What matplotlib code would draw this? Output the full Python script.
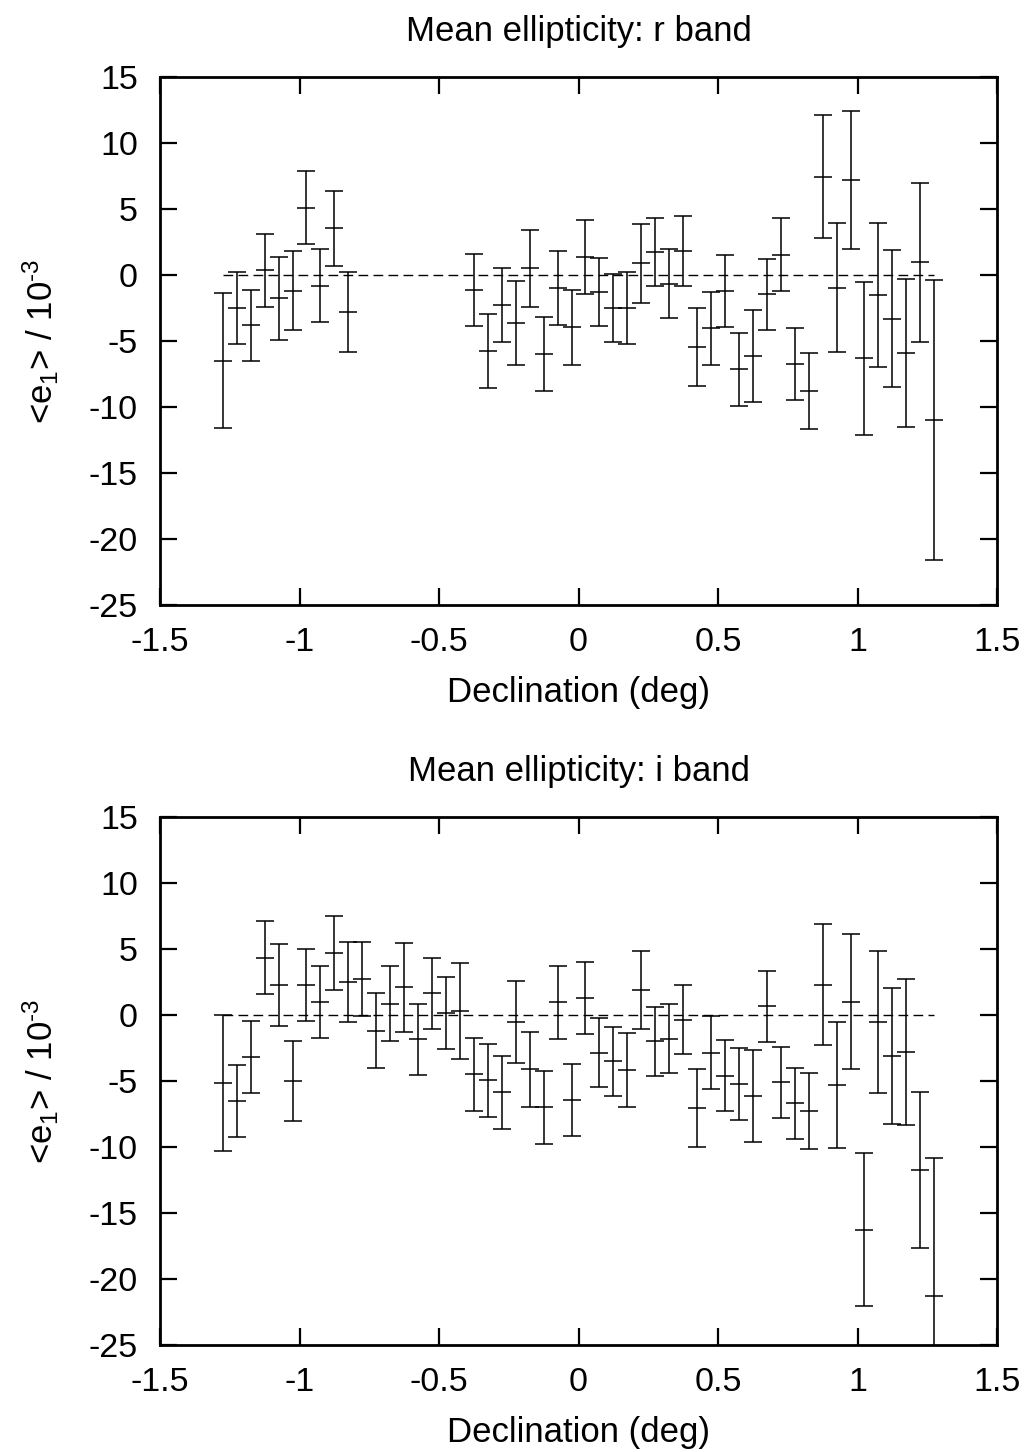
import matplotlib
matplotlib.use("Agg")
import matplotlib.pyplot as plt

plt.rcParams['font.family'] = ['Liberation Sans', 'DejaVu Sans']
plt.rcParams['mathtext.fontset'] = 'custom'
plt.rcParams['mathtext.rm'] = 'Liberation Sans'
plt.rcParams['mathtext.it'] = 'Liberation Sans'
plt.rcParams['axes.unicode_minus'] = False

# ---- data: r band ----
dec_r = [-1.275, -1.225, -1.175, -1.125, -1.075, -1.025, -0.975, -0.925, -0.875, -0.825,
         -0.375, -0.325, -0.275, -0.225, -0.175, -0.125, -0.075, -0.025, 0.025, 0.075,
         0.125, 0.175, 0.225, 0.275, 0.325, 0.375, 0.425, 0.475, 0.525, 0.575,
         0.625, 0.675, 0.725, 0.775, 0.825, 0.875, 0.925, 0.975, 1.025, 1.075,
         1.125, 1.175, 1.225, 1.275]
e1_r = [-6.5, -2.5, -3.8, 0.35, -1.75, -1.2, 5.1, -0.8, 3.55, -2.8,
        -1.15, -5.75, -2.3, -3.65, 0.5, -6.0, -1.0, -3.95, 1.35, -1.3,
        -2.5, -2.5, 0.9, 1.75, -0.65, 1.8, -5.45, -4.05, -1.2, -7.15,
        -6.15, -1.45, 1.55, -6.75, -8.8, 7.45, -0.95, 7.2, -6.3, -1.5,
        -3.3, -5.9, 0.95, -11.0]
err_r = [5.1, 2.75, 2.7, 2.75, 3.15, 3.0, 2.75, 2.75, 2.85, 3.05,
         2.75, 2.8, 2.8, 3.2, 2.9, 2.8, 2.8, 2.85, 2.8, 2.6,
         2.6, 2.75, 3.0, 2.6, 2.6, 2.65, 2.95, 2.75, 2.75, 2.75,
         3.5, 2.7, 2.75, 2.75, 2.9, 4.65, 4.9, 5.2, 5.8, 5.45,
         5.2, 5.6, 6.0, 10.6]

# ---- data: i band ----
dec_i = [-1.275, -1.225, -1.175, -1.125, -1.075, -1.025, -0.975, -0.925, -0.875, -0.825,
         -0.775, -0.725, -0.675, -0.625, -0.575, -0.525, -0.475, -0.425, -0.375, -0.325,
         -0.275, -0.225, -0.175, -0.125, -0.075, -0.025, 0.025, 0.075, 0.125, 0.175,
         0.225, 0.275, 0.325, 0.375, 0.425, 0.475, 0.525, 0.575, 0.625, 0.675,
         0.725, 0.775, 0.825, 0.875, 0.925, 0.975, 1.025, 1.075, 1.125, 1.175,
         1.225, 1.275]
e1_i = [-5.15, -6.5, -3.15, 4.35, 2.3, -5.0, 2.25, 1.0, 4.7, 2.5,
        2.75, -1.2, 0.85, 2.1, -1.85, 1.65, 0.15, 0.3, -4.5, -4.95,
        -5.85, -0.5, -4.1, -7.0, 0.95, -6.45, 1.3, -2.85, -3.5, -4.15,
        1.9, -2.0, -1.8, -0.35, -7.05, -2.85, -4.6, -5.25, -6.15, 0.65,
        -5.1, -6.7, -7.3, 2.3, -5.3, 1.0, -16.25, -0.55, -3.1, -2.8,
        -11.75, -21.3]
err_i = [5.15, 2.73, 2.73, 2.74, 3.1, 3.0, 2.72, 2.73, 2.8, 3.03,
         2.8, 2.83, 2.83, 3.36, 2.7, 2.7, 2.7, 3.66, 2.74, 2.78,
         2.77, 3.1, 2.85, 2.75, 2.78, 2.75, 2.75, 2.62, 2.6, 2.8,
         2.97, 2.6, 2.6, 2.6, 2.95, 2.74, 2.71, 2.72, 3.5, 2.7,
         2.7, 2.7, 2.88, 4.6, 4.8, 5.1, 5.77, 5.38, 5.16, 5.5,
         5.9, 10.45]

titles = ["Mean ellipticity: r band", "Mean ellipticity: i band"]
xticks = [-1.5, -1, -0.5, 0, 0.5, 1, 1.5]
xticklabels = ["-1.5", "-1", "-0.5", "0", "0.5", "1", "1.5"]
yticks = [15, 10, 5, 0, -5, -10, -15, -20, -25]
yticklabels = ["15", "10", "5", "0", "-5", "-10", "-15", "-20", "-25"]

W, H = 1030, 1452
fig = plt.figure(figsize=(W / 100, H / 100), dpi=100)

panels = [(dec_r, e1_r, err_r, 77), (dec_i, e1_i, err_i, 817)]
for (x, y, e, top), title in zip(panels, titles):
    left, right, bottom = 160, 997, top + 528
    ax = fig.add_axes([left / W, 1 - bottom / H, (right - left) / W, 528 / H])
    ax.plot([x[0], x[-1]], [0, 0], color='black', lw=1.0, dashes=(7, 3.8))
    ax.errorbar(x, y, yerr=e, fmt='_', color='black', ms=13, mew=1.1,
                elinewidth=1.1, capsize=6.5, capthick=1.1)
    ax.set_xlim(-1.5, 1.5)
    ax.set_ylim(-25, 15)
    ax.set_xticks(xticks)
    ax.set_xticklabels(xticklabels)
    ax.set_yticks(yticks)
    ax.set_yticklabels(yticklabels)
    ax.tick_params(direction='in', length=12, width=1.6, labelsize=24.5,
                   top=True, right=True, pad=16)
    ax.tick_params(axis='y', pad=16)
    for sp in ax.spines.values():
        sp.set_linewidth(2.0)
    ax.set_title(title, fontsize=25, pad=26)
    ax.set_xlabel("Declination (deg)", fontsize=25, labelpad=13)
    ax.set_ylabel(r"<e$_1$> / 10$^{\text{-}3}$", fontsize=25, labelpad=20)

fig.savefig("out.png", dpi=100)
